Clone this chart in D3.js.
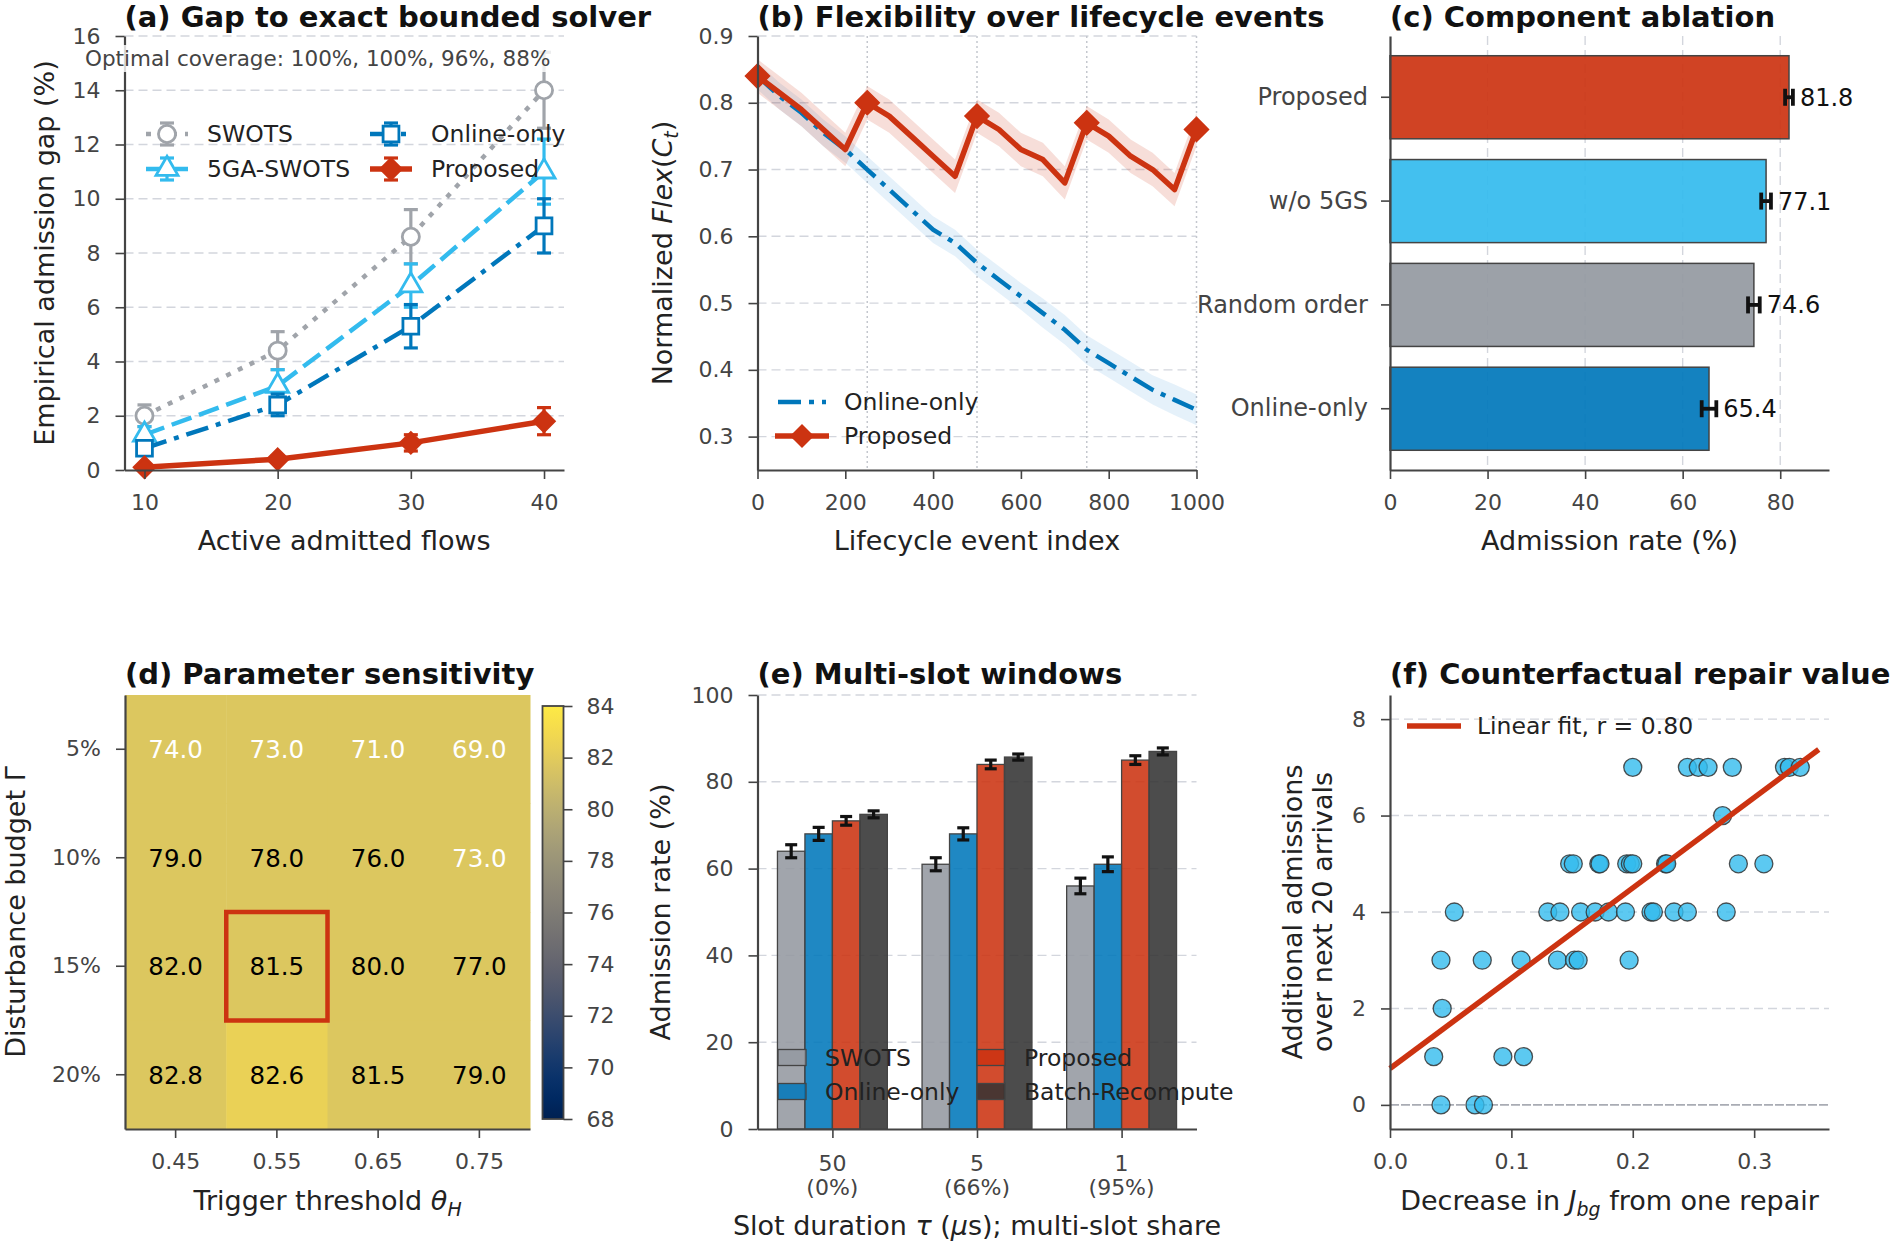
<!DOCTYPE html>
<html>
<head>
<meta charset="utf-8">
<script src="https://cdn.jsdelivr.net/npm/d3@7"></script>
<style>
  body { margin: 0; background: #fff; }
  svg text { font-family: "DejaVu Sans", sans-serif; }
</style>
</head>
<body>
<svg id="fig" width="1900" height="1244"></svg>
<script>
// ---------- data: (a) gap to exact bounded solver ----------
const flowCounts = [10, 20, 30, 40];
const swotsGap = [2.0, 4.4, 8.6, 14.0];
const swotsGapErr = [0.4, 0.7, 1.0, 1.4];
const gaSwotsGap = [1.3, 3.1, 6.8, 11.0];
const gaSwotsGapErr = [0.3, 0.6, 0.8, 1.2];
const onlineGap = [0.8, 2.4, 5.3, 9.0];
const onlineGapErr = [0.25, 0.4, 0.8, 1.0];
const proposedGap = [0.1, 0.4, 1.0, 1.8];
const proposedGapErr = [0.1, 0.12, 0.3, 0.5];
const coverageNote = "Optimal coverage: 100%, 100%, 96%, 88%";

// ---------- data: (b) flexibility over lifecycle events ----------
const eventIndex = [0, 50, 100, 150, 200, 250, 300, 350, 400, 450, 500,
  550, 600, 650, 700, 750, 800, 850, 900, 950, 1000];
const onlineFlex = [0.84, 0.81, 0.785, 0.755, 0.73, 0.70, 0.67, 0.64, 0.61, 0.59, 0.56,
  0.535, 0.51, 0.485, 0.46, 0.43, 0.41, 0.39, 0.37, 0.355, 0.34];
const onlineFlexSpread = [0.02, 0.02, 0.02, 0.02, 0.02, 0.02, 0.02, 0.02, 0.02, 0.02, 0.02,
  0.02, 0.02, 0.022, 0.022, 0.022, 0.022, 0.022, 0.022, 0.023, 0.023];
const proposedFlex = [0.84, 0.815, 0.79, 0.76, 0.73, 0.80, 0.78, 0.75, 0.72, 0.69, 0.78,
  0.76, 0.73, 0.715, 0.68, 0.77, 0.75, 0.72, 0.70, 0.67, 0.76];
const proposedFlexSpread = [0.025, 0.025, 0.025, 0.025, 0.025, 0.025, 0.025, 0.025, 0.025, 0.025, 0.025,
  0.025, 0.025, 0.025, 0.025, 0.025, 0.025, 0.025, 0.025, 0.025, 0.025];
const repairEvents = [250, 500, 750, 1000];

// ---------- data: (c) component ablation ----------
const ablationNames = ["Proposed", "w/o 5GS", "Random order", "Online-only"];
const ablationRate = [81.8, 77.1, 74.6, 65.4];
const ablationErr = [0.8, 1.0, 1.2, 1.5];

// ---------- data: (d) parameter sensitivity ----------
const thetaLabels = ["0.45", "0.55", "0.65", "0.75"];
const gammaLabels = ["5%", "10%", "15%", "20%"];
const sensitivity = [
  [74.0, 73.0, 71.0, 69.0],
  [79.0, 78.0, 76.0, 73.0],
  [82.0, 81.5, 80.0, 77.0],
  [82.8, 82.6, 81.5, 79.0]
];
// colour level of each cell as it appears on the colour bar
const sensitivityShade = [
  [81.7, 81.7, 81.7, 81.7],
  [81.7, 81.7, 81.7, 81.7],
  [81.7, 81.7, 81.7, 81.7],
  [81.7, 82.4, 81.7, 81.7]
];
const chosenCell = [2, 1];

// ---------- data: (e) multi-slot windows ----------
const slotTicks = [["50", "(0%)"], ["5", "(66%)"], ["1", "(95%)"]];
const slotMethods = ["SWOTS", "Online-only", "Proposed", "Batch-Recompute"];
const swotsSlot = [64, 61, 56];
const onlineSlot = [68, 68, 61];
const proposedSlot = [71, 84, 85];
const batchSlot = [72.5, 85.7, 87];
const swotsSlotErr = [1.5, 1.5, 1.8];
const onlineSlotErr = [1.5, 1.4, 1.7];
const proposedSlotErr = [1.0, 1.0, 1.0];
const batchSlotErr = [0.8, 0.7, 0.8];

// ---------- data: (f) counterfactual repair value ----------
const jbgDecrease = [
  0.200, 0.245, 0.254, 0.262, 0.282, 0.325, 0.329, 0.338,
  0.274,
  0.148, 0.151, 0.172, 0.173, 0.195, 0.198, 0.200, 0.227, 0.228, 0.287, 0.308,
  0.053, 0.130, 0.140, 0.157, 0.169, 0.180, 0.194, 0.215, 0.217, 0.234, 0.245, 0.277,
  0.042, 0.076, 0.108, 0.138, 0.152, 0.155, 0.197,
  0.043,
  0.036, 0.093, 0.110,
  0.042, 0.070, 0.077
];
const extraAdmissions = [
  7, 7, 7, 7, 7, 7, 7, 7,
  6,
  5, 5, 5, 5, 5, 5, 5, 5, 5, 5, 5,
  4, 4, 4, 4, 4, 4, 4, 4, 4, 4, 4, 4,
  3, 3, 3, 3, 3, 3, 3,
  2,
  1, 1, 1,
  0, 0, 0
];
const fitLabel = "Linear fit, r = 0.80";

// ---------- palette & layout ----------
const C = { red: "#CC3311", blue: "#0077BB", cyan: "#33BBEE", gray: "#9499A1", dark: "#333333", swots: "#A0A4AA" };
const FONT = "DejaVu Sans, sans-serif";
const TITLE_FS = 29, LABEL_FS = 27, TICK_FS = 22;
const TOP = { y0: 36, y1: 470 };
const BOT = { y0: 695, y1: 1129 };
const COLS = [[124.5, 564], [757.5, 1196.5], [1390, 1829]];
const box = (c, r) => ({ x0: COLS[c][0], x1: COLS[c][1], y0: r.y0, y1: r.y1 });

const svg = d3.select("#fig");

function styleAxis(g, fs) {
  g.attr("font-family", FONT).attr("font-size", fs || TICK_FS);
  g.select(".domain").attr("stroke", "#444").attr("stroke-width", 2.2);
  g.selectAll(".tick line").attr("stroke", "#444").attr("stroke-width", 1.6);
  g.selectAll(".tick text").attr("fill", "#444");
  return g;
}

function title(p, txt, y) {
  svg.append("text").attr("x", p.x0).attr("y", y)
    .attr("font-size", TITLE_FS).attr("font-weight", "bold").attr("fill", "#111").text(txt);
}

// parts: [text, kind] kind: "" normal, "i" italic, "sub" italic subscript
function rich(t, parts, fs) {
  let shifted = false;
  parts.forEach(([s, kind]) => {
    const sp = t.append("tspan").text(s);
    if (kind === "i" || kind === "sub") sp.attr("font-style", "italic");
    if (kind === "sub") {
      sp.attr("font-size", fs * 0.7);
      if (!shifted) { sp.attr("dy", fs * 0.22); shifted = true; }
    } else if (shifted) { sp.attr("dy", -fs * 0.22); shifted = false; }
  });
  return t;
}

function xLabel(p, y, parts) {
  const t = svg.append("text").attr("x", (p.x0 + p.x1) / 2).attr("y", y)
    .attr("text-anchor", "middle").attr("font-size", LABEL_FS).attr("fill", "#222");
  return rich(t, typeof parts === "string" ? [[parts, ""]] : parts, LABEL_FS);
}

function yLabel(x, cy, parts) {
  const t = svg.append("text").attr("transform", `translate(${x},${cy}) rotate(-90)`)
    .attr("text-anchor", "middle").attr("font-size", LABEL_FS).attr("fill", "#222");
  return rich(t, typeof parts === "string" ? [[parts, ""]] : parts, LABEL_FS);
}

function hGrid(p, y, ticks) {
  svg.append("g").selectAll("line").data(ticks).join("line")
    .attr("x1", p.x0).attr("x2", p.x1).attr("y1", d => y(d)).attr("y2", d => y(d))
    .attr("stroke", "#D3D6DD").attr("stroke-width", 1.4).attr("stroke-dasharray", "9,5");
}

const diamond = (size) => d3.symbol().type(d3.symbolSquare).size(size);

// ======================= (a) =======================
{
  const p = box(0, TOP);
  const x = d3.scaleLinear().domain([8.5, 41.5]).range([p.x0, p.x1]);
  const y = d3.scaleLinear().domain([0, 16]).range([p.y1, p.y0]);
  hGrid(p, y, d3.range(2, 17, 2));

  const series = [
    { name: "SWOTS", mean: swotsGap, err: swotsGapErr, color: C.swots, dash: "5,8", w: 4.5, sym: d3.symbolCircle, size: 230, fill: "#fff", rot: 0 },
    { name: "5GA-SWOTS", mean: gaSwotsGap, err: gaSwotsGapErr, color: C.cyan, dash: "21,8", w: 4.5, sym: d3.symbolTriangle, size: 210, fill: "#fff", rot: 0 },
    { name: "Online-only", mean: onlineGap, err: onlineGapErr, color: C.blue, dash: "23,8,5,8", w: 4.5, sym: d3.symbolSquare, size: 250, fill: "#fff", rot: 0 },
    { name: "Proposed", mean: proposedGap, err: proposedGapErr, color: C.red, dash: null, w: 5.5, sym: d3.symbolSquare, size: 210, fill: C.red, rot: 45 }
  ];
  const line = d3.line().x((d, i) => x(flowCounts[i])).y(d => y(d));

  series.forEach(s => {
    const g = svg.append("g");
    g.append("path").attr("d", line(s.mean)).attr("fill", "none")
      .attr("stroke", s.color).attr("stroke-width", s.w)
      .attr("stroke-dasharray", s.dash);
    s.mean.forEach((m, i) => {
      const cx = x(flowCounts[i]);
      const lo = y(m - s.err[i]), hi = y(m + s.err[i]);
      g.append("line").attr("x1", cx).attr("x2", cx).attr("y1", lo).attr("y2", hi)
        .attr("stroke", s.color).attr("stroke-width", 3.2);
      [lo, hi].forEach(yy => g.append("line").attr("x1", cx - 7).attr("x2", cx + 7)
        .attr("y1", yy).attr("y2", yy).attr("stroke", s.color).attr("stroke-width", 3.2));
      g.append("path").attr("d", d3.symbol().type(s.sym).size(s.size)())
        .attr("transform", `translate(${cx},${y(m)}) rotate(${s.rot})`)
        .attr("fill", s.fill).attr("stroke", s.color).attr("stroke-width", 2.8);
    });
  });

  styleAxis(svg.append("g").attr("transform", `translate(0,${p.y1})`)
    .call(d3.axisBottom(x).tickValues(flowCounts).tickSize(9).tickPadding(15).tickSizeOuter(0)));
  styleAxis(svg.append("g").attr("transform", `translate(${p.x0},0)`)
    .call(d3.axisLeft(y).tickValues(d3.range(0, 17, 2)).tickSize(9).tickPadding(15).tickSizeOuter(0)));

  // legend, two columns
  const leg = svg.append("g");
  const slots = [[146, 134], [146, 169], [370, 134], [370, 169]];
  series.forEach((s, i) => {
    const [lx, ly] = slots[i];
    leg.append("line").attr("x1", lx).attr("x2", lx + 42).attr("y1", ly).attr("y2", ly)
      .attr("stroke", s.color).attr("stroke-width", s.w).attr("stroke-dasharray", s.dash);
    const cx = lx + 21;
    leg.append("line").attr("x1", cx).attr("x2", cx).attr("y1", ly - 11).attr("y2", ly + 11)
      .attr("stroke", s.color).attr("stroke-width", 3.2);
    [ly - 11, ly + 11].forEach(yy => leg.append("line").attr("x1", cx - 7).attr("x2", cx + 7)
      .attr("y1", yy).attr("y2", yy).attr("stroke", s.color).attr("stroke-width", 3.2));
    leg.append("path").attr("d", d3.symbol().type(s.sym).size(s.size)())
      .attr("transform", `translate(${cx},${ly}) rotate(${s.rot})`)
      .attr("fill", s.fill).attr("stroke", s.color).attr("stroke-width", 2.8);
    leg.append("text").attr("x", lx + 61).attr("y", ly + 8).attr("font-size", 23.5)
      .attr("fill", "#222").text(s.name);
  });

  const note = svg.append("text").attr("x", 85).attr("y", 66).attr("font-size", 21.5)
    .attr("fill", "#444").text(coverageNote);
  const bb = note.node().getBBox();
  svg.insert("rect", () => note.node()).attr("x", bb.x - 3).attr("y", bb.y - 1)
    .attr("width", bb.width + 6).attr("height", bb.height + 2)
    .attr("fill", "#fff").attr("opacity", 0.8);

  title(p, "(a) Gap to exact bounded solver", 27);
  xLabel(p, 550, "Active admitted flows");
  yLabel(54, (p.y0 + p.y1) / 2, "Empirical admission gap (%)");
}

// ======================= (b) =======================
{
  const p = box(1, TOP);
  const x = d3.scaleLinear().domain([0, 1000]).range([p.x0, p.x1]);
  const y = d3.scaleLinear().domain([0.25, 0.9]).range([p.y1, p.y0]);
  hGrid(p, y, d3.range(3, 10).map(v => v / 10));
  svg.append("g").selectAll("line").data(repairEvents).join("line")
    .attr("x1", d => x(d)).attr("x2", d => x(d)).attr("y1", p.y0).attr("y2", p.y1)
    .attr("stroke", "#C4C7CE").attr("stroke-width", 1.5).attr("stroke-dasharray", "2,3");

  const area = (mean, spread) => d3.area().x((d, i) => x(eventIndex[i]))
    .y0((d, i) => y(mean[i] - spread[i])).y1((d, i) => y(mean[i] + spread[i]))(mean);
  const line = d3.line().x((d, i) => x(eventIndex[i])).y(d => y(d));

  svg.append("path").attr("d", area(onlineFlex, onlineFlexSpread)).attr("fill", "#2B8FD6").attr("opacity", 0.12);
  svg.append("path").attr("d", area(proposedFlex, proposedFlexSpread)).attr("fill", C.red).attr("opacity", 0.16);
  svg.append("path").attr("d", line(onlineFlex)).attr("fill", "none").attr("stroke", C.blue)
    .attr("stroke-width", 4.5).attr("stroke-dasharray", "23,8,5,8");
  svg.append("path").attr("d", line(proposedFlex)).attr("fill", "none").attr("stroke", C.red)
    .attr("stroke-width", 5.5).attr("stroke-linejoin", "round");
  svg.append("g").selectAll("path").data(proposedFlex.filter((d, i) => i % 5 === 0)).join("path")
    .attr("d", diamond(290)())
    .attr("transform", (d, i) => `translate(${x(eventIndex[i * 5])},${y(d)}) rotate(45)`)
    .attr("fill", C.red).attr("stroke", C.red).attr("stroke-width", 1.5);

  styleAxis(svg.append("g").attr("transform", `translate(0,${p.y1})`)
    .call(d3.axisBottom(x).tickValues(d3.range(0, 1001, 200)).tickFormat(d3.format("d"))
      .tickSize(9).tickPadding(15).tickSizeOuter(0)));
  styleAxis(svg.append("g").attr("transform", `translate(${p.x0},0)`)
    .call(d3.axisLeft(y).tickValues(d3.range(3, 10).map(v => v / 10)).tickFormat(d3.format(".1f"))
      .tickSize(9).tickPadding(15).tickSizeOuter(0)));

  const leg = svg.append("g");
  leg.append("line").attr("x1", 778).attr("x2", 826).attr("y1", 402).attr("y2", 402)
    .attr("stroke", C.blue).attr("stroke-width", 4.5).attr("stroke-dasharray", "23,8,5,8");
  leg.append("line").attr("x1", 775).attr("x2", 829).attr("y1", 436).attr("y2", 436)
    .attr("stroke", C.red).attr("stroke-width", 5.5);
  leg.append("path").attr("d", diamond(290)()).attr("transform", "translate(802,436) rotate(45)").attr("fill", C.red);
  leg.append("text").attr("x", 844).attr("y", 410).attr("font-size", 23.5).attr("fill", "#222").text("Online-only");
  leg.append("text").attr("x", 844).attr("y", 444).attr("font-size", 23.5).attr("fill", "#222").text("Proposed");

  title(p, "(b) Flexibility over lifecycle events", 27);
  xLabel(p, 550, "Lifecycle event index");
  yLabel(672, (p.y0 + p.y1) / 2, [["Normalized ", ""], ["Flex", "i"], ["(", ""], ["C", "i"], ["t", "sub"], [")", ""]]);
}

// ======================= (c) =======================
{
  const p = box(2, TOP);
  const x = d3.scaleLinear().domain([0, 90]).range([p.x0, p.x1]);
  const y = d3.scaleBand().domain(ablationNames).range([p.y0, p.y1]).paddingInner(0.2).paddingOuter(0.19);
  const colors = [C.red, C.cyan, C.gray, C.blue];

  svg.append("g").selectAll("line").data([20, 40, 60, 80]).join("line")
    .attr("x1", d => x(d)).attr("x2", d => x(d)).attr("y1", p.y0).attr("y2", p.y1)
    .attr("stroke", "#D3D6DD").attr("stroke-width", 1.4).attr("stroke-dasharray", "9,5");

  svg.append("g").selectAll("rect").data(ablationRate).join("rect")
    .attr("x", x(0)).attr("y", (d, i) => y(ablationNames[i]))
    .attr("width", d => x(d) - x(0)).attr("height", y.bandwidth())
    .attr("fill", (d, i) => colors[i]).attr("fill-opacity", 0.92)
    .attr("stroke", "#444").attr("stroke-width", 1.5);

  ablationRate.forEach((v, i) => {
    const cy = y(ablationNames[i]) + y.bandwidth() / 2;
    const a = x(v - ablationErr[i]), b = x(v + ablationErr[i]);
    svg.append("line").attr("x1", a).attr("x2", b).attr("y1", cy).attr("y2", cy).attr("stroke", "#111").attr("stroke-width", 3.8);
    [a, b].forEach(xx => svg.append("line").attr("x1", xx).attr("x2", xx).attr("y1", cy - 8.5).attr("y2", cy + 8.5)
      .attr("stroke", "#111").attr("stroke-width", 3.8));
    svg.append("text").attr("x", b + 7).attr("y", cy + 8.5).attr("font-size", 24).attr("fill", "#111")
      .text(d3.format(".1f")(v));
  });

  styleAxis(svg.append("g").attr("transform", `translate(0,${p.y1})`)
    .call(d3.axisBottom(x).tickValues([0, 20, 40, 60, 80]).tickSize(9).tickPadding(15).tickSizeOuter(0)));
  styleAxis(svg.append("g").attr("transform", `translate(${p.x0},0)`)
    .call(d3.axisLeft(y).tickSize(9).tickPadding(13).tickSizeOuter(0)), 24);

  title(p, "(c) Component ablation", 27);
  xLabel(p, 550, "Admission rate (%)");
}

// ======================= (d) =======================
{
  const p = { x0: 125, x1: 530, y0: BOT.y0, y1: BOT.y1 };
  const x = d3.scaleBand().domain(thetaLabels).range([p.x0, p.x1]);
  const y = d3.scaleBand().domain(gammaLabels).range([p.y0, p.y1]);
  const color = d3.scaleSequential(d3.interpolateCividis).domain([68, 84]);

  const cells = [];
  sensitivity.forEach((row, r) => row.forEach((v, c) => cells.push({ r, c, v, s: sensitivityShade[r][c] })));
  svg.append("g").selectAll("rect").data(cells).join("rect")
    .attr("x", d => x(thetaLabels[d.c])).attr("y", d => y(gammaLabels[d.r]))
    .attr("width", x.bandwidth() + 0.5).attr("height", y.bandwidth() + 0.5)
    .attr("fill", d => color(d.s));
  svg.append("g").selectAll("text").data(cells).join("text")
    .attr("x", d => x(thetaLabels[d.c]) + x.bandwidth() / 2)
    .attr("y", d => y(gammaLabels[d.r]) + y.bandwidth() / 2)
    .attr("dy", "0.36em").attr("text-anchor", "middle").attr("font-size", 24.5)
    .attr("fill", d => d.v < 75 ? "#fff" : "#000")
    .text(d => d3.format(".1f")(d.v));

  svg.append("rect")
    .attr("x", x(thetaLabels[chosenCell[1]])).attr("y", y(gammaLabels[chosenCell[0]]))
    .attr("width", x.bandwidth()).attr("height", y.bandwidth())
    .attr("fill", "none").attr("stroke", C.red).attr("stroke-width", 4.5);

  styleAxis(svg.append("g").attr("transform", `translate(0,${p.y1})`)
    .call(d3.axisBottom(x).tickSize(9).tickPadding(15).tickSizeOuter(0)));
  styleAxis(svg.append("g").attr("transform", `translate(${p.x0},0)`)
    .call(d3.axisLeft(y).tickSize(9).tickPadding(15).tickSizeOuter(0)));

  // colour bar
  const cb = { x: 542.5, w: 21, y0: 706, y1: 1119 };
  const grad = svg.append("defs").append("linearGradient").attr("id", "cividis")
    .attr("x1", 0).attr("y1", 1).attr("x2", 0).attr("y2", 0);
  d3.range(0, 1.0001, 0.05).forEach(t => grad.append("stop").attr("offset", t).attr("stop-color", d3.interpolateCividis(t)));
  svg.append("rect").attr("x", cb.x).attr("y", cb.y0).attr("width", cb.w).attr("height", cb.y1 - cb.y0)
    .attr("fill", "url(#cividis)").attr("stroke", "#444").attr("stroke-width", 1.8);
  const cy = d3.scaleLinear().domain([68, 84]).range([cb.y1, cb.y0]);
  const cbAxis = styleAxis(svg.append("g").attr("transform", `translate(${cb.x + cb.w},0)`)
    .call(d3.axisRight(cy).tickValues(d3.range(68, 85, 2)).tickSize(9).tickPadding(14).tickSizeOuter(0)));
  cbAxis.select(".domain").remove();

  title(p, "(d) Parameter sensitivity", 684);
  xLabel(p, 1210, [["Trigger threshold ", ""], ["θ", "i"], ["H", "sub"]]);
  yLabel(25, (p.y0 + p.y1) / 2, "Disturbance budget Γ");
}

// ======================= (e) =======================
{
  const p = box(1, BOT);
  const x = d3.scaleLinear().domain([-0.518, 2.518]).range([p.x0, p.x1]);
  const y = d3.scaleLinear().domain([0, 100]).range([p.y1, p.y0]);
  const barW = 0.19;
  const values = [swotsSlot, onlineSlot, proposedSlot, batchSlot];
  const errs = [swotsSlotErr, onlineSlotErr, proposedSlotErr, batchSlotErr];
  const colors = [C.gray, C.blue, C.red, C.dark];
  hGrid(p, y, [20, 40, 60, 80, 100]);

  values.forEach((vals, m) => {
    const off = (m - 1.5) * barW;
    svg.append("g").selectAll("rect").data(vals).join("rect")
      .attr("x", (d, g) => x(g + off - barW / 2)).attr("y", d => y(d))
      .attr("width", x(barW) - x(0)).attr("height", d => y(0) - y(d))
      .attr("fill", colors[m]).attr("fill-opacity", 0.88)
      .attr("stroke", "#444").attr("stroke-width", 1.3);
    vals.forEach((v, g) => {
      const cx = x(g + off);
      const lo = y(v - errs[m][g]), hi = y(v + errs[m][g]);
      svg.append("line").attr("x1", cx).attr("x2", cx).attr("y1", lo).attr("y2", hi).attr("stroke", "#111").attr("stroke-width", 3.2);
      [lo, hi].forEach(yy => svg.append("line").attr("x1", cx - 6).attr("x2", cx + 6).attr("y1", yy).attr("y2", yy)
        .attr("stroke", "#111").attr("stroke-width", 3.2));
    });
  });

  styleAxis(svg.append("g").attr("transform", `translate(0,${p.y1})`)
    .call(d3.axisBottom(x).tickValues([0, 1, 2]).tickFormat(() => "").tickSize(9).tickSizeOuter(0)));
  slotTicks.forEach((lab, g) => {
    const t = svg.append("text").attr("x", x(g)).attr("text-anchor", "middle").attr("font-size", TICK_FS).attr("fill", "#444");
    t.append("tspan").attr("x", x(g)).attr("y", 1171).text(lab[0]);
    t.append("tspan").attr("x", x(g)).attr("y", 1195).text(lab[1]);
  });
  styleAxis(svg.append("g").attr("transform", `translate(${p.x0},0)`)
    .call(d3.axisLeft(y).tickValues(d3.range(0, 101, 20)).tickSize(9).tickPadding(15).tickSizeOuter(0)));

  const slots = [[778, 1057.5], [778, 1091.5], [977, 1057.5], [977, 1091.5]];
  slotMethods.forEach((name, m) => {
    const [lx, ly] = slots[m];
    svg.append("rect").attr("x", lx).attr("y", ly - 8).attr("width", 28).attr("height", 16)
      .attr("fill", colors[m]).attr("fill-opacity", 0.85).attr("stroke", "#444").attr("stroke-width", 1.3);
    svg.append("text").attr("x", lx + 47).attr("y", ly + 8).attr("font-size", 23.5).attr("fill", "#222").text(name);
  });

  title(p, "(e) Multi-slot windows", 684);
  xLabel(p, 1235, [["Slot duration ", ""], ["τ", "i"], [" (", ""], ["μ", "i"], ["s); multi-slot share", ""]]);
  yLabel(670, (p.y0 + p.y1) / 2, "Admission rate (%)");
}

// ======================= (f) =======================
{
  const p = box(2, BOT);
  const xmax = d3.max(jbgDecrease);
  const x = d3.scaleLinear().domain([0, xmax * 1.07]).range([p.x0, p.x1]);
  const y = d3.scaleLinear().domain([-0.5, 8.5]).range([p.y1, p.y0]);
  hGrid(p, y, [2, 4, 6, 8]);
  svg.append("line").attr("x1", p.x0).attr("x2", p.x1).attr("y1", y(0)).attr("y2", y(0))
    .attr("stroke", "#A9ACB4").attr("stroke-width", 1.8).attr("stroke-dasharray", "9,2");

  const pts = jbgDecrease.map((v, i) => [v, extraAdmissions[i]]);
  svg.append("g").selectAll("circle").data(pts).join("circle")
    .attr("cx", d => x(d[0])).attr("cy", d => y(d[1])).attr("r", 9)
    .attr("fill", C.cyan).attr("fill-opacity", 0.8)
    .attr("stroke", "#333").attr("stroke-opacity", 0.85).attr("stroke-width", 1.3);

  // least-squares fit through the points
  const mx = d3.mean(jbgDecrease), my = d3.mean(extraAdmissions);
  const sxy = d3.sum(pts, d => (d[0] - mx) * (d[1] - my));
  const sxx = d3.sum(pts, d => (d[0] - mx) ** 2);
  const slope = sxy / sxx, icpt = my - slope * mx;
  const fitX = [0, xmax * 1.045];
  svg.append("line").attr("x1", x(fitX[0])).attr("y1", y(icpt + slope * fitX[0]))
    .attr("x2", x(fitX[1])).attr("y2", y(icpt + slope * fitX[1]))
    .attr("stroke", C.red).attr("stroke-width", 5.5);

  styleAxis(svg.append("g").attr("transform", `translate(0,${p.y1})`)
    .call(d3.axisBottom(x).tickValues([0, 0.1, 0.2, 0.3]).tickFormat(d3.format(".1f")).tickSize(9).tickPadding(15).tickSizeOuter(0)));
  styleAxis(svg.append("g").attr("transform", `translate(${p.x0},0)`)
    .call(d3.axisLeft(y).tickValues([0, 2, 4, 6, 8]).tickSize(9).tickPadding(15).tickSizeOuter(0)));

  svg.append("line").attr("x1", 1407).attr("x2", 1461).attr("y1", 726).attr("y2", 726)
    .attr("stroke", C.red).attr("stroke-width", 5.5);
  svg.append("text").attr("x", 1477).attr("y", 734).attr("font-size", 23.5).attr("fill", "#222").text(fitLabel);

  title(p, "(f) Counterfactual repair value", 684);
  xLabel(p, 1210, [["Decrease in ", ""], ["J", "i"], ["bg", "sub"], [" from one repair", ""]]);
  yLabel(1302, (p.y0 + p.y1) / 2, "Additional admissions");
  yLabel(1332, (p.y0 + p.y1) / 2, "over next 20 arrivals");
}
</script>
</body>
</html>
